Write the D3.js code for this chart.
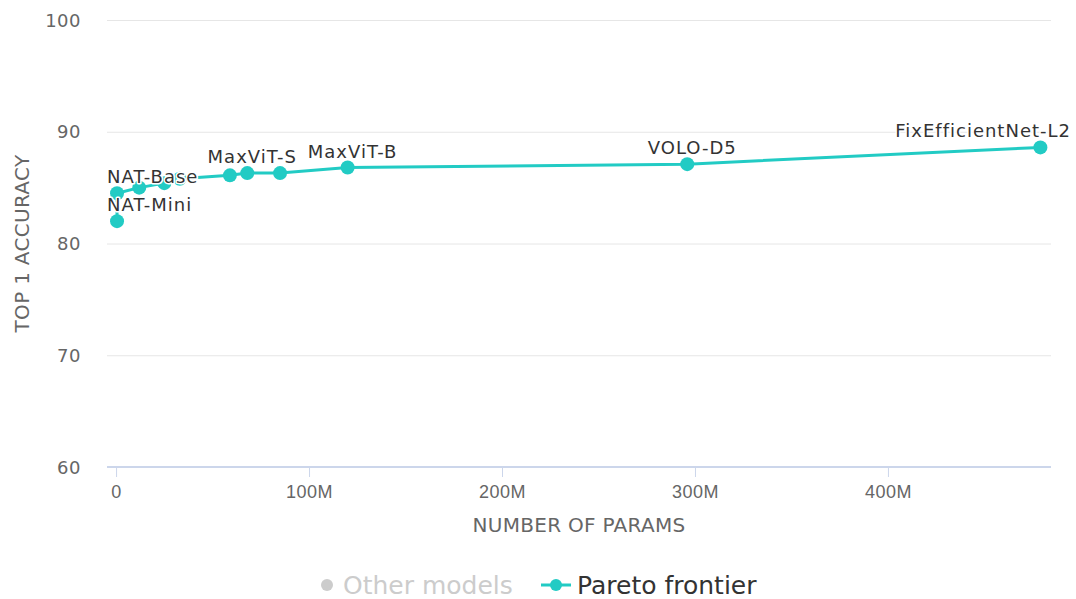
<!DOCTYPE html>
<html lang="en">
<head>
    <meta charset="UTF-8">
    <title>Pareto frontier</title>
    <style>
        body { margin: 0; background: #fff; }
        svg { font-family: "DejaVu Sans", Verdana, sans-serif; display: block; }
        .grid line { stroke: #e6e6e6; stroke-width: 1; }
        .tick-label { fill: #666; font-size: 18px; letter-spacing: 0.5px; }
        .axis-title { fill: #666; font-size: 20px; letter-spacing: 0.3px; }
        .pt-label {
            fill: #333; font-size: 18px; letter-spacing: 1px;
            stroke: #fff; stroke-width: 3px; paint-order: stroke; stroke-linejoin: round;
        }
    </style>
    <script src="https://d3js.org/d3.v7.min.js"></script>
</head>
<body>
    <svg width="1076" height="599"></svg>

    <script>
        // model names (empty = no label drawn)
        const names = ["NAT-Mini", "NAT-Base", "", "", "", "", "MaxViT-S", "", "MaxViT-B", "VOLO-D5", "FixEfficientNet-L2"];
        // params in millions
        const params = [0.5, 0.5, 12, 25, 33, 59, 68, 85, 120, 296, 479];
        // top-1 accuracy
        const accuracy = [82.0, 84.5, 85.0, 85.4, 85.8, 86.1, 86.3, 86.3, 86.8, 87.1, 88.6];

        const xTicks = [0, 100, 200, 300, 400];
        const yTicks = [60, 70, 80, 90, 100];

        const teal = "#22cbc4";
        const plot = {left: 107, right: 1051, top: 20, bottom: 467};

        const svg = d3.select("svg");

        const x = d3.scaleLinear().domain([-4.7, 484.5]).range([plot.left, plot.right]);
        const y = d3.scaleLinear().domain([60, 100]).range([plot.bottom, plot.top]);

        // horizontal grid
        svg.append("g").attr("class", "grid")
            .selectAll("line").data(yTicks.slice(1)).join("line")
            .attr("x1", plot.left).attr("x2", plot.right)
            .attr("y1", d => y(d) + 0.5).attr("y2", d => y(d) + 0.5);

        // y tick labels
        svg.append("g").selectAll("text").data(yTicks).join("text")
            .attr("class", "tick-label")
            .attr("x", 81).attr("y", d => y(d))
            .attr("text-anchor", "end").attr("dominant-baseline", "central")
            .text(d => d);

        // x axis
        const xAxis = svg.append("g")
            .attr("transform", `translate(0,${plot.bottom})`)
            .call(d3.axisBottom(x).tickValues(xTicks).tickSize(10).tickPadding(8)
                .tickFormat(d => d === 0 ? "0" : d + "M"));
        xAxis.select(".domain").attr("stroke", "#ccd6eb").attr("stroke-width", 2)
            .attr("d", `M${plot.left},0H${plot.right}`);
        xAxis.selectAll(".tick line").attr("stroke", "#ccd6eb");
        xAxis.selectAll(".tick text").attr("class", "tick-label").attr("fill", "#666")
            .style("font-size", "18px").style("font-family", "inherit");

        // axis titles
        svg.append("text").attr("class", "axis-title")
            .attr("x", (plot.left + plot.right) / 2).attr("y", 532)
            .attr("text-anchor", "middle")
            .text("NUMBER OF PARAMS");
        svg.append("text").attr("class", "axis-title")
            .attr("transform", `translate(29,${(plot.top + plot.bottom) / 2}) rotate(-90)`)
            .attr("text-anchor", "middle")
            .text("TOP 1 ACCURACY");

        // frontier line
        const pts = params.map((p, i) => ({name: names[i], p: p, acc: accuracy[i]}));
        svg.append("path")
            .datum(pts)
            .attr("fill", "none")
            .attr("stroke", teal)
            .attr("stroke-width", 3)
            .attr("d", d3.line().x(d => x(d.p)).y(d => y(d.acc)));

        svg.append("g").selectAll("circle").data(pts).join("circle")
            .attr("cx", d => x(d.p)).attr("cy", d => y(d.acc))
            .attr("r", 7).attr("fill", teal);

        // point labels, kept inside the chart
        const lbl = svg.append("g").selectAll("text").data(pts.filter(d => d.name)).join("text")
            .attr("class", "pt-label")
            .attr("x", d => x(d.p)).attr("y", d => y(d.acc) - 10)
            .attr("text-anchor", "middle")
            .text(d => d.name);
        lbl.each(function(d) {
            const w = this.getComputedTextLength();
            let cx = x(d.p) + 5;
            if (cx - w / 2 < plot.left) cx = plot.left + w / 2;
            if (cx + w / 2 > 1071) cx = 1071 - w / 2;
            d3.select(this).attr("x", cx);
        });

        // legend
        const leg = svg.append("g").attr("transform", "translate(0,585)");
        leg.append("circle").attr("cx", 327).attr("cy", 0).attr("r", 6).attr("fill", "#ccc");
        leg.append("text").attr("x", 343).attr("y", 0).attr("dominant-baseline", "central")
            .attr("fill", "#ccc").style("font-size", "25px").text("Other models");
        leg.append("line").attr("x1", 541).attr("x2", 571).attr("y1", 0).attr("y2", 0)
            .attr("stroke", teal).attr("stroke-width", 3);
        leg.append("circle").attr("cx", 556).attr("cy", 0).attr("r", 6).attr("fill", teal);
        leg.append("text").attr("x", 577).attr("y", 0).attr("dominant-baseline", "central")
            .attr("fill", "#333").style("font-size", "25px").text("Pareto frontier");
    </script>
</body>
</html>
